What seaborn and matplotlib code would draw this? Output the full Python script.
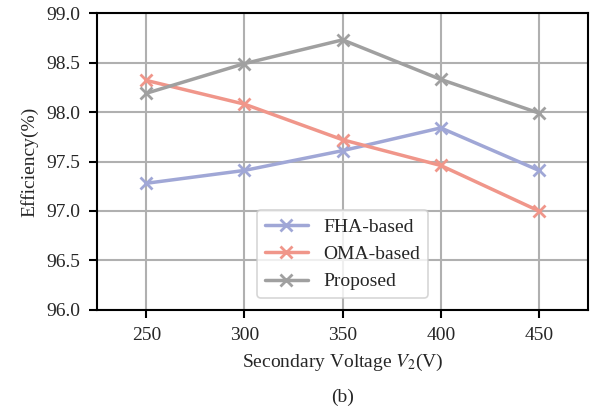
import pandas as pd
import matplotlib.pyplot as plt
import seaborn as sns

# --- data ---
voltages = [250, 300, 350, 400, 450]
fha_based = [97.28, 97.41, 97.61, 97.84, 97.41]
oma_based = [98.32, 98.08, 97.72, 97.46, 97.00]
proposed = [98.19, 98.49, 98.73, 98.33, 97.99]
methods = ['FHA-based', 'OMA-based', 'Proposed']
colors = ['#a0a7d6', '#f0968a', '#a0a0a0']

df = pd.DataFrame({
    'voltage': voltages * 3,
    'efficiency': fha_based + oma_based + proposed,
    'method': [m for m in methods for _ in voltages],
})

sns.set_style('ticks')
plt.rcParams['font.family'] = ['Liberation Serif', 'DejaVu Serif']
plt.rcParams['mathtext.fontset'] = 'stix'

fig = plt.figure(figsize=(6, 4.11), dpi=100)
ax = fig.add_axes([0.162, 0.246, 0.818, 0.722])

sns.lineplot(data=df, x='voltage', y='efficiency', hue='method',
             hue_order=methods, palette=colors, marker='x', markersize=9,
             markeredgewidth=2, linewidth=2.5, ax=ax, legend=False)

# seaborn paints marker edges white, give them the line colour
for line in ax.get_lines():
    line.set_markeredgecolor(line.get_color())

ax.set_xlim(225, 475)
ax.set_ylim(96.0, 99.0)
ax.set_xticks(voltages)
ax.set_yticks([96.0, 96.5, 97.0, 97.5, 98.0, 98.5, 99.0])
ax.set_yticklabels(['96.0', '96.5', '97.0', '97.5', '98.0', '98.5', '99.0'])
ax.grid(True, color='#b0b0b0', linewidth=1.5)
ax.set_axisbelow(True)
for s in ax.spines.values():
    s.set_color('black')
    s.set_linewidth(1.5)
ax.tick_params(labelsize=14, length=6, width=1.5, color='black', pad=6)

ax.set_xlabel('Secondary Voltage $V_2$(V)', fontsize=14, labelpad=6)
ax.set_ylabel('Efficiency(%)', fontsize=14, labelpad=6)

leg = ax.legend(ax.get_lines()[:3], methods, loc='lower center', fontsize=14,
                frameon=True, handlelength=2.2, borderaxespad=0.6)
leg.get_frame().set_edgecolor('#cccccc')
leg.get_frame().set_linewidth(1.2)

fig.text(0.571, 0.034, '(b)', ha='center', va='center', fontsize=14)

fig.savefig('out.png', dpi=100)
